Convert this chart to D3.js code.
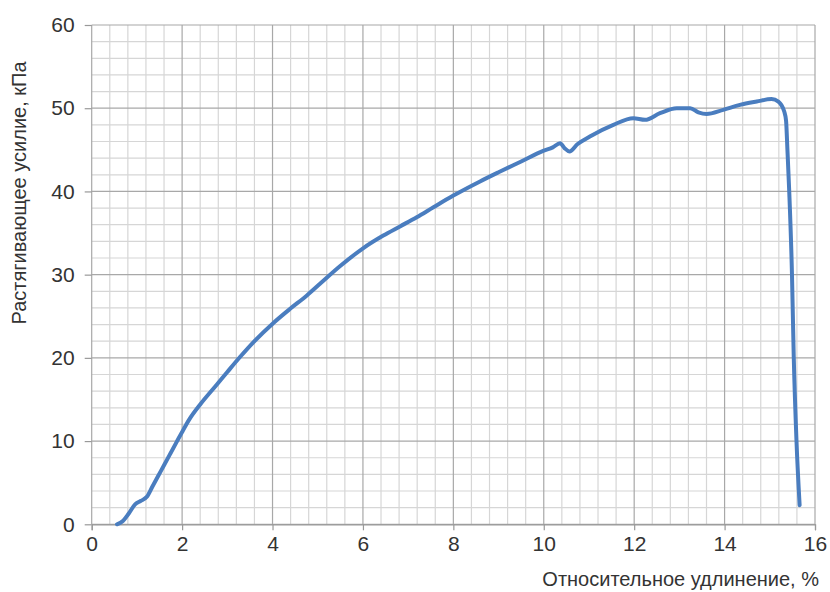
<!DOCTYPE html>
<html>
<head>
<meta charset="utf-8">
<script src="https://cdn.jsdelivr.net/npm/d3@7"></script>
<style>
  html, body { margin: 0; padding: 0; background: #fff; }
  svg text { font-family: "Liberation Sans", Arial, sans-serif; fill: #333; }
</style>
</head>
<body>
<svg id="chart" width="830" height="592"></svg>
<script>
// Tensile test: strain (%) vs tensile force (kPa)
const strain = [0.56, 0.69, 0.82, 0.96, 1.08, 1.22, 1.35, 1.47, 1.60, 1.73, 1.88, 2.00, 2.17, 2.40, 2.77,
  3.00, 3.28, 3.58, 4.02, 4.39, 4.76, 5.05, 5.49, 6.01, 6.45, 6.82, 7.19, 7.56, 8.00, 8.59,
  9.00, 9.50, 10.00, 10.20, 10.36, 10.46, 10.57, 10.75, 11.02, 11.54, 11.98, 12.24, 12.57,
  12.94, 13.24, 13.42, 13.60, 13.97, 14.34, 14.71, 15.04, 15.19, 15.32, 15.36, 15.39, 15.43,
  15.49, 15.53, 15.59, 15.66];
const force = [0.0, 0.4, 1.3, 2.4, 2.8, 3.3, 4.6, 5.8, 7.1, 8.4, 9.9, 11.1, 12.7, 14.4, 16.8,
  18.3, 20.1, 21.9, 24.2, 25.9, 27.5, 28.9, 31.0, 33.2, 34.7, 35.8, 36.9, 38.1, 39.5, 41.2,
  42.3, 43.6, 44.9, 45.3, 45.8, 45.2, 44.8, 45.7, 46.6, 48.0, 48.8, 48.6, 49.4,
  50.0, 50.0, 49.5, 49.3, 49.8, 50.4, 50.8, 51.1, 50.8, 49.6, 48.5, 45.0, 40.0,
  30.2, 20.1, 10.1, 2.3];

const xTicks = [0, 2, 4, 6, 8, 10, 12, 14, 16];
const yTicks = [0, 10, 20, 30, 40, 50, 60];
const xTitle = "Относительное удлинение, %";
const yTitle = "Растягивающее усилие, кПа";

const svg = d3.select("#chart");
const x = d3.scaleLinear().domain([0, 16]).range([91.7, 815]);
const y = d3.scaleLinear().domain([0, 60]).range([524.3, 25]);

// minor grid
const grid = svg.append("g");
const minorX = d3.range(0, 16.001, 0.4).filter(v => Math.abs(v / 2 - Math.round(v / 2)) > 1e-6);
const minorY = d3.range(0, 60.001, 2).filter(v => v % 10 !== 0);
grid.selectAll(".mx").data(minorX).join("line")
  .attr("x1", d => x(d)).attr("x2", d => x(d))
  .attr("y1", y(0)).attr("y2", y(60))
  .attr("stroke", "#d6d6d6").attr("stroke-width", 1.2);
grid.selectAll(".my").data(minorY).join("line")
  .attr("x1", x(0)).attr("x2", x(16))
  .attr("y1", d => y(d)).attr("y2", d => y(d))
  .attr("stroke", "#d6d6d6").attr("stroke-width", 1.2);

// major grid
grid.selectAll(".Mx").data(xTicks).join("line")
  .attr("x1", d => x(d)).attr("x2", d => x(d))
  .attr("y1", y(0)).attr("y2", y(60))
  .attr("stroke", "#a8a8a8").attr("stroke-width", 1.2);
grid.selectAll(".My").data(yTicks).join("line")
  .attr("x1", x(0)).attr("x2", x(16))
  .attr("y1", d => y(d)).attr("y2", d => y(d))
  .attr("stroke", "#a8a8a8").attr("stroke-width", 1.2);

// axes
const xAxis = d3.axisBottom(x).tickValues(xTicks).tickSize(6).tickPadding(6).tickFormat(d3.format("d"));
const yAxis = d3.axisLeft(y).tickValues(yTicks).tickSize(7).tickPadding(10).tickFormat(d3.format("d"));

const gx = svg.append("g").attr("transform", `translate(0,${y(0)})`).call(xAxis);
const gy = svg.append("g").attr("transform", `translate(${x(0)},0)`).call(yAxis);
[gx, gy].forEach(g => {
  g.select(".domain").attr("stroke", "#999").attr("stroke-width", 1.2);
  g.selectAll(".tick line").attr("stroke", "#999").attr("stroke-width", 1.2);
  g.selectAll(".tick text").attr("font-size", 21).attr("fill", "#333")
    .style("font-family", "'Liberation Sans', Arial, sans-serif");
});
gy.select(".domain").remove();

// curve
const line = d3.line()
  .x((d, i) => x(strain[i]))
  .y((d, i) => y(force[i]))
  .curve(d3.curveMonotoneX);
svg.append("path")
  .datum(force)
  .attr("d", line)
  .attr("fill", "none")
  .attr("stroke", "#4a7dbf")
  .attr("stroke-width", 4)
  .attr("stroke-linejoin", "round")
  .attr("stroke-linecap", "round");

// axis titles
svg.append("text")
  .attr("x", 819).attr("y", 586)
  .attr("text-anchor", "end")
  .attr("font-size", 20)
  .text(xTitle);
svg.append("text")
  .attr("transform", `translate(26,193) rotate(-90)`)
  .attr("text-anchor", "middle")
  .attr("font-size", 20)
  .text(yTitle);
</script>
</body>
</html>
